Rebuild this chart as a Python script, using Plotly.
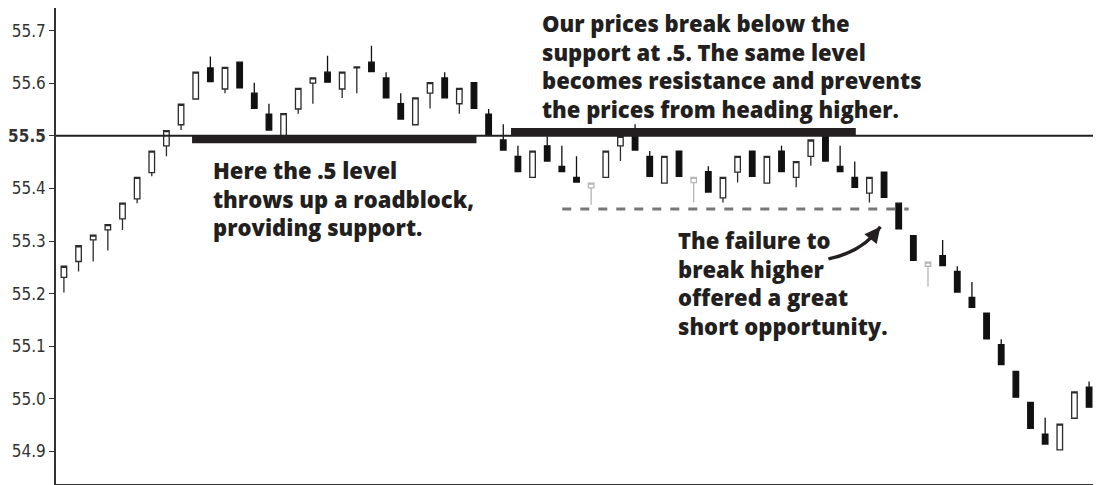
import plotly.graph_objects as go

# candle data (bar index 0..70)
opens = [55.231, 55.261, 55.302, 55.321, 55.342, 55.380, 55.430, 55.481, 55.521, 55.570,
         55.629, 55.589, 55.640, 55.581, 55.541, 55.500, 55.551, 55.600, 55.621, 55.589,
         55.629, 55.640, 55.610, 55.561, 55.521, 55.581, 55.610, 55.561, 55.601, 55.541,
         55.492, 55.461, 55.421, 55.481, 55.442, 55.421, 55.401, 55.421, 55.481, 55.499,
         55.461, 55.410, 55.471, 55.411, 55.432, 55.382, 55.431, 55.471, 55.410, 55.471,
         55.421, 55.461, 55.499, 55.442, 55.421, 55.391, 55.431, 55.372, 55.310, 55.252,
         55.272, 55.242, 55.193, 55.163, 55.103, 55.052, 54.993, 54.933, 54.903, 54.963,
         55.022]
highs = [55.252, 55.291, 55.311, 55.331, 55.372, 55.421, 55.471, 55.510, 55.560, 55.621,
         55.651, 55.630, 55.640, 55.601, 55.561, 55.542, 55.590, 55.610, 55.652, 55.621,
         55.631, 55.671, 55.621, 55.581, 55.572, 55.601, 55.621, 55.590, 55.601, 55.551,
         55.522, 55.481, 55.471, 55.499, 55.481, 55.461, 55.410, 55.471, 55.499, 55.522,
         55.471, 55.461, 55.471, 55.421, 55.442, 55.421, 55.461, 55.471, 55.461, 55.481,
         55.451, 55.492, 55.499, 55.481, 55.451, 55.421, 55.431, 55.372, 55.310, 55.260,
         55.302, 55.252, 55.222, 55.163, 55.113, 55.052, 54.993, 54.964, 54.952, 55.013,
         55.033]
lows = [55.202, 55.242, 55.261, 55.282, 55.321, 55.372, 55.423, 55.461, 55.511, 55.570,
        55.603, 55.581, 55.591, 55.552, 55.511, 55.500, 55.542, 55.561, 55.602, 55.572,
        55.581, 55.622, 55.572, 55.532, 55.521, 55.552, 55.572, 55.542, 55.552, 55.502,
        55.473, 55.432, 55.421, 55.452, 55.432, 55.412, 55.369, 55.421, 55.452, 55.473,
        55.423, 55.410, 55.423, 55.373, 55.393, 55.373, 55.411, 55.423, 55.410, 55.432,
        55.402, 55.443, 55.452, 55.432, 55.402, 55.373, 55.383, 55.323, 55.263, 55.213,
        55.253, 55.203, 55.174, 55.114, 55.065, 55.003, 54.944, 54.914, 54.903, 54.963,
        54.984]
closes = [55.252, 55.291, 55.311, 55.331, 55.372, 55.421, 55.471, 55.510, 55.560, 55.621,
          55.603, 55.630, 55.591, 55.552, 55.511, 55.542, 55.590, 55.610, 55.602, 55.621,
          55.631, 55.622, 55.572, 55.532, 55.572, 55.601, 55.572, 55.590, 55.552, 55.502,
          55.473, 55.432, 55.471, 55.452, 55.432, 55.412, 55.410, 55.471, 55.499, 55.473,
          55.423, 55.461, 55.423, 55.421, 55.393, 55.421, 55.461, 55.423, 55.461, 55.432,
          55.451, 55.492, 55.452, 55.432, 55.402, 55.421, 55.383, 55.323, 55.263, 55.260,
          55.253, 55.203, 55.174, 55.114, 55.065, 55.003, 54.944, 54.914, 54.952, 55.013,
          54.984]
faint_bars = [36, 43, 59]  # candles printed in light grey

level = 55.5
support_zone = [8.75, 28.17, 55.486]     # x from, x to, bottom of bar
resistance_zone = [30.53, 54.07, 55.515]  # x from, x to, top of bar
failure_line = [34.03, 57.68, 55.361]
arrow_path = [(52.2, 55.266), (54.57, 55.2795), (55.75, 55.327)]

y_ticks = [54.9, 55.0, 55.1, 55.2, 55.3, 55.4, 55.5, 55.6, 55.7]
y_labels = ["54.9", "55.0", "55.1", "55.2", "55.3", "55.4", "<b>55.5</b>", "55.6", "55.7"]

idx = list(range(len(opens)))
main = [i for i in idx if i not in faint_bars]

ink = "#231f20"
fig = go.Figure()
fig.add_trace(go.Candlestick(
    x=main, open=[opens[i] for i in main], high=[highs[i] for i in main],
    low=[lows[i] for i in main], close=[closes[i] for i in main],
    increasing=dict(line=dict(color="#2b2b2b", width=1.3), fillcolor="white"),
    decreasing=dict(line=dict(color="#111111", width=1.3), fillcolor="#111111"),
    showlegend=False, hoverinfo="skip"))
fig.add_trace(go.Candlestick(
    x=faint_bars, open=[opens[i] for i in faint_bars], high=[highs[i] for i in faint_bars],
    low=[lows[i] for i in faint_bars], close=[closes[i] for i in faint_bars],
    increasing=dict(line=dict(color="#b5b5b5", width=1.3), fillcolor="white"),
    decreasing=dict(line=dict(color="#b5b5b5", width=1.3), fillcolor="#b5b5b5"),
    showlegend=False, hoverinfo="skip"))

fig.add_shape(type="line", xref="paper", x0=0, x1=1, y0=level, y1=level,
              line=dict(color=ink, width=2))
fig.add_shape(type="rect", x0=support_zone[0], x1=support_zone[1], y0=support_zone[2], y1=level,
              fillcolor=ink, line=dict(width=0))
fig.add_shape(type="rect", x0=resistance_zone[0], x1=resistance_zone[1], y0=level,
              y1=resistance_zone[2], fillcolor=ink, line=dict(width=0))
fig.add_shape(type="line", x0=failure_line[0], x1=failure_line[1], y0=failure_line[2],
              y1=failure_line[2], line=dict(color="#777777", width=3, dash="dash"))
(p0, p1, p2) = arrow_path
fig.add_shape(type="path", path=f"M {p0[0]},{p0[1]} Q {p1[0]},{p1[1]} {p2[0]},{p2[1]}",
              line=dict(color=ink, width=3.5))
fig.add_annotation(x=p2[0], y=p2[1], ax=-8, ay=10, text="", showarrow=True,
                   arrowhead=2, arrowsize=0.9, arrowwidth=3.5, arrowcolor=ink)

txt_font = dict(family="Open Sans", size=22, color=ink, weight=800)
fig.add_annotation(x=32.5, y=1.004, yref="paper", xanchor="left", yanchor="top",
                   align="left", showarrow=False, font=txt_font,
                   text="Our prices break below the<br>support at .5. The same level<br>"
                        "becomes resistance and prevents<br>the prices from heading higher.")
fig.add_annotation(x=10.03, y=55.4677, xanchor="left", yanchor="top", align="left",
                   showarrow=False, font=txt_font,
                   text="Here the .5 level<br>throws up a roadblock,<br>providing support.")
fig.add_annotation(x=41.77, y=55.3346, xanchor="left", yanchor="top", align="left",
                   showarrow=False, font=txt_font,
                   text="The failure to<br>break higher<br>offered a great<br>short opportunity.")

# the page puts the figure a few px in from the corner, so it is drawn a bit smaller
fig.update_layout(
    width=1089, height=477, margin=dict(l=39, r=0, t=0, b=1),
    plot_bgcolor="white", paper_bgcolor="white", boxgap=0.46,
    xaxis=dict(range=[-0.54, 70.54], showgrid=False, zeroline=False, showticklabels=False,
               ticks="", showline=True, linecolor="#333333", linewidth=1.5,
               rangeslider=dict(visible=False), fixedrange=True),
    yaxis=dict(range=[54.838, 55.743], tickvals=y_ticks, ticktext=y_labels,
               showgrid=False, zeroline=False, showline=True, linecolor="#333333",
               linewidth=1.5, ticks="outside", ticklen=5, tickcolor="#333333",
               tickfont=dict(family="Liberation Sans Narrow, DejaVu Sans Condensed", size=17,
                             color="#333333")),
)

fig.write_html("out.html")
